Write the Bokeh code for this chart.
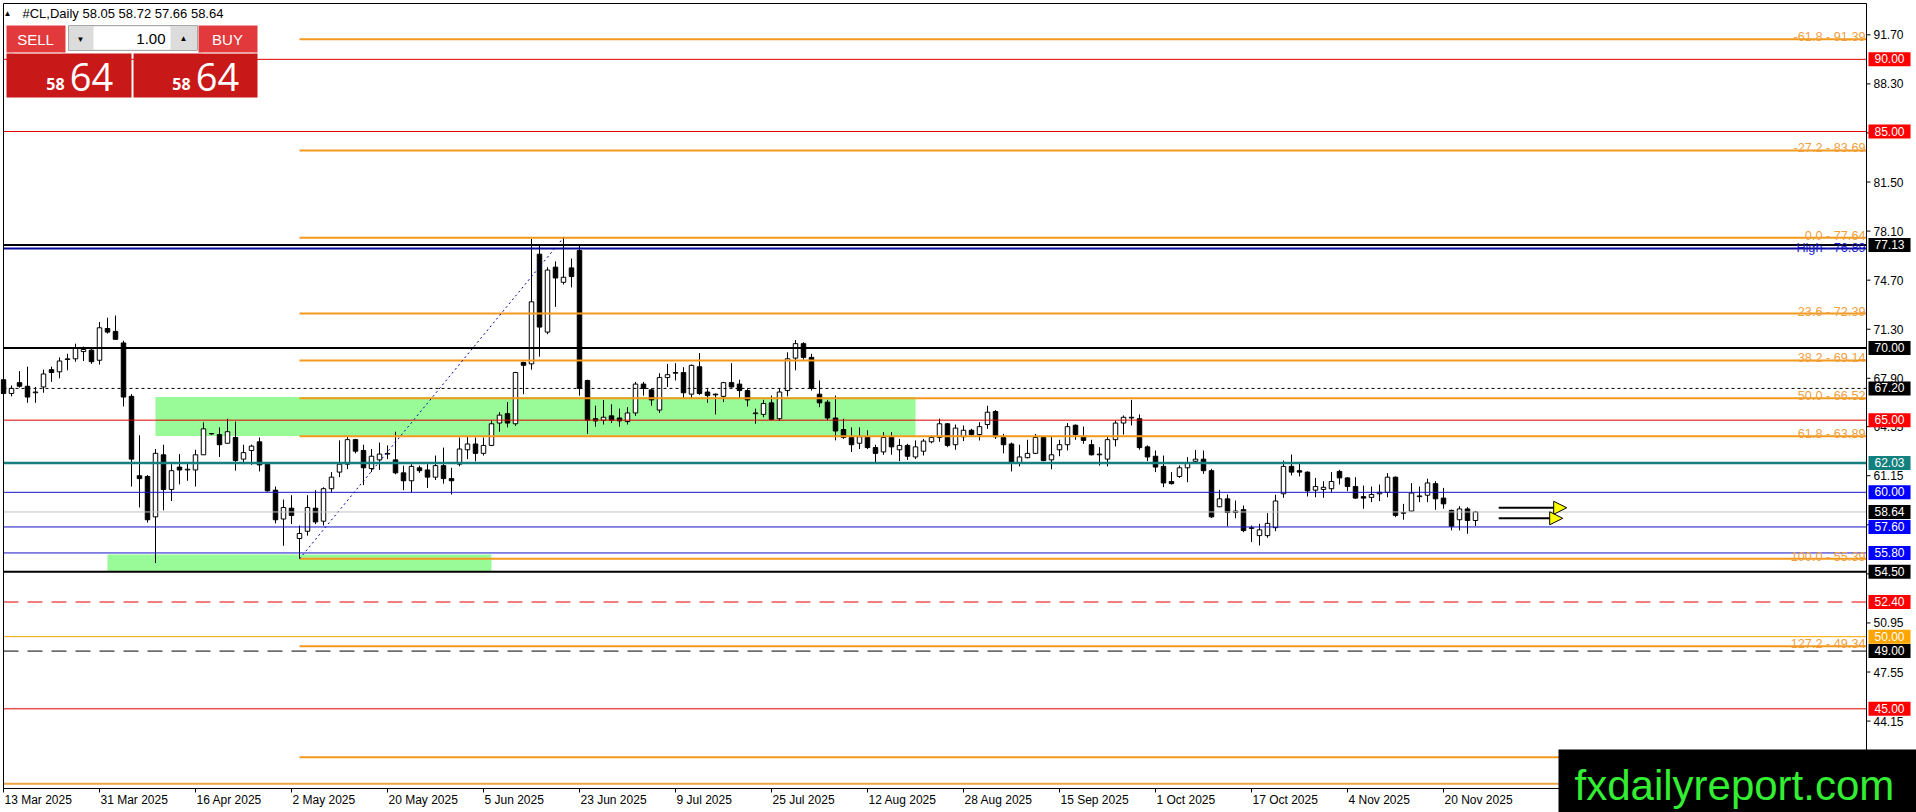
import numpy as np
from bokeh.plotting import figure
from bokeh.models import (Range1d, Label, BoxAnnotation, Arrow, NormalHead, ColumnDataSource)
from bokeh.core.properties import value
from bokeh.embed import file_html
from bokeh.resources import INLINE

# ---------------- data ----------------
symbol = "#CL,Daily"

opens = [67.8, 66.85, 67.6, 67.35, 66.9, 67.3, 68.5, 68.35, 69.2, 69.25,
         69.75, 69.85, 69.15, 71.35, 71.15, 70.35, 66.65, 61.15, 61.1, 58.3,
         62.6, 60.2, 61.75, 61.55, 61.55, 62.6, 64.05, 64.0, 63.4, 63.8,
         62.3, 62.9, 63.5, 61.95, 60.15, 58.15, 58.9, 56.8, 57.3, 58.9,
         58.0, 60.25, 61.4, 61.95, 63.65, 62.9, 61.65, 62.25, 62.65, 62.25,
         61.35, 60.8, 61.7, 61.55, 61.05, 61.85, 60.95, 61.95, 62.95, 63.35,
         62.7, 63.25, 64.8, 65.45, 64.75, 69.0, 68.9, 76.5, 71.1, 75.6,
         74.55, 75.55, 76.75, 67.75, 65.1, 65.0, 65.3, 65.15, 64.9, 65.5,
         67.5, 67.1, 65.7, 67.95, 68.25, 68.3, 66.8, 68.7, 66.95, 66.8,
         66.65, 67.6, 67.5, 67.05, 65.45, 65.4, 66.2, 65.1, 67.05, 69.3,
         70.3, 69.35, 66.8, 66.25, 65.15, 64.35, 63.8, 63.4, 63.85, 63.1,
         62.8, 63.85, 62.95, 63.25, 62.45, 62.85, 63.5, 63.8, 64.75, 63.3,
         63.85, 64.3, 64.0, 64.7, 65.6, 63.8, 63.35, 62.0, 62.4, 62.7,
         63.8, 62.25, 62.95, 63.3, 64.65, 63.85, 63.3, 62.6, 62.3, 63.65,
         64.8, 65.15, 65.1, 63.15, 62.5, 61.8, 60.75, 61.1, 61.7, 62.15,
         62.3, 61.5, 59.0, 59.55, 58.6, 58.8, 57.5, 57.0, 57.0, 57.55,
         59.9, 61.8, 61.5, 61.4, 60.15, 60.2, 60.25, 61.45, 61.0, 60.4,
         59.7, 59.65, 59.9, 60.0, 61.05, 58.55, 58.7, 59.7, 59.8, 60.6,
         59.6, 58.75, 58.1, 58.85, 58.05]
highs = [68.0, 67.4, 68.4, 68.7, 67.3, 68.5, 68.7, 69.35, 69.6, 70.3,
         70.1, 70.05, 71.8, 72.1, 72.25, 70.5, 66.8, 63.95, 61.2, 63.0,
         63.3, 61.95, 62.65, 62.0, 62.95, 64.85, 64.1, 64.5, 65.1, 64.9,
         63.3, 63.3, 63.8, 62.0, 60.4, 59.5, 59.8, 57.7, 59.8, 60.15,
         60.35, 61.4, 63.6, 63.85, 63.7, 63.3, 63.0, 63.45, 63.25, 64.2,
         61.85, 61.95, 61.85, 61.95, 62.55, 63.1, 61.7, 63.8, 63.85, 63.8,
         63.8, 64.98, 65.55, 66.25, 68.35, 69.05, 77.55, 77.15, 75.6, 76.0,
         77.64, 76.2, 77.15, 67.8, 66.0, 66.4, 66.1, 65.8, 65.9, 67.65,
         67.65, 67.2, 68.25, 68.9, 68.95, 68.67, 68.85, 69.65, 67.15, 66.85,
         67.65, 68.95, 67.8, 67.2, 65.8, 66.41, 66.7, 67.2, 69.7, 70.55,
         70.4, 69.6, 67.75, 66.41, 66.7, 65.1, 64.5, 64.5, 64.3, 63.3,
         64.17, 64.17, 63.7, 63.36, 63.6, 63.7, 63.94, 65.1, 64.8, 64.7,
         64.63, 64.4, 64.86, 66.0, 65.7, 64.05, 63.45, 63.3, 63.64, 64.05,
         63.85, 63.85, 63.64, 64.8, 64.7, 64.56, 63.64, 63.13, 63.87, 64.97,
         65.33, 66.41, 65.4, 63.25, 62.9, 62.55, 61.4, 61.86, 62.44, 62.94,
         62.9, 61.63, 60.17, 59.85, 59.43, 59.09, 57.7, 57.82, 58.56, 59.83,
         62.2, 62.62, 62.02, 61.45, 61.0, 60.77, 61.4, 61.56, 61.05, 61.05,
         60.47, 60.4, 60.54, 61.33, 61.1, 59.2, 60.64, 60.4, 60.94, 60.77,
         60.31, 58.8, 59.04, 58.97, 58.72]
lows = [66.35, 66.65, 67.25, 66.2, 66.2, 66.9, 67.65, 67.9, 68.45, 69.05,
        69.1, 68.9, 68.85, 71.0, 70.6, 65.95, 60.4, 58.95, 57.9, 55.1,
        58.75, 59.4, 60.55, 60.8, 60.4, 62.6, 64.0, 62.45, 63.4, 61.5,
        61.95, 61.9, 61.45, 60.05, 57.85, 56.3, 57.8, 55.39, 57.0, 57.8,
        57.7, 60.0, 61.05, 61.6, 62.7, 60.5, 61.4, 61.55, 62.3, 61.25,
        60.15, 60.0, 61.35, 60.3, 60.85, 60.6, 59.85, 61.8, 62.3, 62.15,
        62.55, 63.2, 64.2, 64.5, 64.6, 66.8, 68.5, 69.4, 70.95, 72.85,
        74.4, 74.2, 66.7, 64.05, 64.55, 64.7, 64.8, 64.55, 64.7, 65.3,
        66.7, 66.0, 65.5, 67.3, 67.75, 66.5, 66.5, 66.75, 66.2, 65.4,
        66.25, 67.25, 66.5, 65.95, 64.75, 65.2, 65.0, 64.95, 66.65, 68.45,
        69.2, 67.05, 65.9, 65.0, 63.6, 63.7, 62.8, 63.0, 63.0, 61.98,
        62.6, 62.6, 62.16, 62.25, 62.3, 62.55, 63.4, 63.5, 63.13, 62.95,
        63.55, 63.94, 63.59, 64.4, 63.7, 62.7, 61.45, 61.8, 62.35, 62.65,
        62.15, 61.6, 62.5, 62.9, 63.64, 63.36, 62.55, 61.86, 61.8, 63.18,
        64.0, 64.63, 62.95, 62.16, 61.4, 60.36, 60.54, 61.0, 60.7, 62.09,
        61.28, 58.23, 58.97, 57.65, 58.2, 57.24, 56.55, 56.32, 56.85, 57.31,
        59.62, 61.17, 61.1, 59.71, 59.66, 59.62, 60.0, 60.54, 60.08, 59.55,
        58.86, 59.32, 59.39, 59.66, 58.28, 58.1, 58.65, 59.32, 59.32, 58.79,
        58.86, 57.36, 57.36, 57.13, 57.66]
closes = [66.85, 67.2, 67.35, 66.6, 66.95, 68.2, 68.3, 69.1, 69.25, 70.0,
          69.9, 69.05, 71.4, 71.1, 70.6, 66.6, 62.3, 60.95, 58.1, 62.7,
          60.2, 61.5, 61.55, 61.6, 62.6, 64.4, 64.07, 63.3, 64.2, 62.2,
          62.75, 63.2, 61.9, 60.1, 58.1, 58.95, 58.4, 57.15, 58.95, 57.95,
          60.25, 61.05, 61.95, 63.65, 62.85, 61.7, 62.5, 62.65, 62.7, 61.35,
          60.8, 61.8, 61.5, 61.05, 61.85, 60.95, 60.8, 63.0, 63.35, 62.7,
          63.25, 64.75, 65.35, 64.8, 68.3, 68.8, 73.2, 71.45, 75.4, 74.85,
          74.9, 74.95, 67.2, 65.0, 64.95, 65.2, 65.0, 64.95, 65.5, 67.5,
          67.2, 66.4, 67.95, 68.15, 68.3, 66.9, 68.8, 66.85, 66.7, 66.75,
          67.6, 67.3, 67.05, 66.4, 65.5, 66.15, 65.05, 66.95, 69.25, 70.3,
          69.35, 67.2, 66.2, 65.15, 64.25, 63.8, 63.3, 63.85, 63.1, 62.7,
          63.8, 63.15, 63.25, 62.5, 63.15, 63.55, 63.8, 64.75, 63.25, 64.45,
          64.3, 64.0, 64.55, 65.55, 63.85, 63.3, 62.0, 62.45, 62.7, 63.8,
          62.2, 62.6, 63.3, 64.55, 64.0, 63.6, 62.6, 62.65, 63.65, 64.8,
          65.2, 65.2, 63.1, 62.45, 61.75, 60.65, 60.6, 61.7, 62.0, 62.3,
          61.5, 58.3, 59.55, 58.6, 58.7, 57.35, 57.55, 57.4, 57.85, 59.4,
          61.8, 61.4, 61.4, 60.1, 60.4, 60.35, 60.75, 61.0, 60.4, 59.6,
          59.6, 59.85, 60.0, 61.05, 58.4, 58.6, 59.95, 59.75, 60.65, 59.55,
          59.2, 57.65, 58.85, 58.05, 58.64]

date_labels = ["13 Mar 2025", "31 Mar 2025", "16 Apr 2025", "2 May 2025", "20 May 2025",
               "5 Jun 2025", "23 Jun 2025", "9 Jul 2025", "25 Jul 2025", "12 Aug 2025",
               "28 Aug 2025", "15 Sep 2025", "1 Oct 2025", "17 Oct 2025", "4 Nov 2025",
               "20 Nov 2025"]
date_bars = [0, 12, 24, 36, 48, 60, 72, 84, 96, 108, 120, 132, 144, 156, 168, 180]

y_ticks = [91.70, 88.30, 84.90, 81.50, 78.10, 74.70, 71.30, 67.90, 64.55, 61.15,
           57.75, 54.35, 50.95, 47.55, 44.15, 40.75]

# horizontal levels
level_prices = [90.00, 85.00, 77.13, 76.89, 70.00, 67.20, 65.00, 62.03, 60.00, 58.64,
                57.60, 55.80, 54.50, 52.40, 50.00, 49.00, 45.00, 39.80]
level_tagged = [True, True, True, False, True, True, True, True, True, True,
                True, True, True, True, True, True, True, False]

# fibonacci tool
fib_ratios = ["-61.8", "-27.2", "0.0", "23.6", "38.2", "50.0", "61.8", "100.0", "127.2", "161.8"]
fib_levels = [91.39, 83.69, 77.64, 72.39, 69.14, 66.52, 63.89, 55.39, 49.34, 41.64]
fib_start_bar = 37
fib_end_bar = 70
fib_low = 55.39
fib_high = 77.64
high_label_price = 76.89

# rectangles (zones)
zone_left = [19, 13]
zone_right = [114, 61]
zone_bottom = [63.90, 54.50]
zone_top = [66.60, 55.70]

# arrows drawn on the chart
arrow_x0 = [186.9, 186.9]
arrow_x1 = [195.4, 194.9]
arrow_y = [58.93, 58.20]

# ---------------- styles / layout ----------------
FONT = "Liberation Sans"
RED, BLACK, BLUE, TEAL, ORANGE = "#e00000", "#000000", "#1414c8", "#15807f", "#ffa500"
level_color = [RED, RED, BLACK, "#0a0a9a", BLACK, BLACK, RED, TEAL, BLUE, "#c0c0c0",
               BLUE, BLUE, BLACK, RED, ORANGE, BLACK, RED, "#eba646"]
level_width = [1, 1, 2, 2, 2, 1, 1, 2.5, 1, 1, 1, 1, 2, 1, 1, 1, 1, 2]
level_dash = ["solid", "solid", "solid", "solid", "solid", "3 3", "solid", "solid", "solid", "solid",
              "solid", "solid", "solid", "15 9", "solid", "15 9", "solid", "solid"]
tag_color = ["#ff0000", "#ff0000", BLACK, None, BLACK, BLACK, "#ff0000", "#138080", "#0000ff", BLACK,
             "#0000ff", "#0000ff", BLACK, "#ff0000", ORANGE, BLACK, "#ff0000", None]
FIB_LINE = "#f39a1e"
FIB_TEXT = "#f0a040"

W, H = 1916, 812          # canvas (sits at the page's top-left corner)
BAR_PX = 8
PX_PER_UNIT = 14.433      # vertical price scale in pixels
REF_PRICE, REF_Y = 91.70, 34.3

def price_at(page_y):
    return REF_PRICE - (page_y - REF_Y) / PX_PER_UNIT

x_start = -3 / BAR_PX      # bar 0 sits 3 px right of the left edge
def bar_at(page_x):
    return x_start + page_x / BAR_PX

x_end = bar_at(W)
x_edge = bar_at(1866)      # right border of the price area (price scale line)
y_lo, y_hi = price_at(H), price_at(0)
y_bottom = price_at(788)   # bottom border of the price area
y_top_line = price_at(3)
x_left_line = bar_at(3)

p = figure(width=W, height=H, x_range=Range1d(x_start, x_end), y_range=Range1d(y_lo, y_hi),
           output_backend="svg", toolbar_location=None,
           x_axis_location=None, y_axis_location=None,
           min_border=0, min_border_left=0, min_border_right=0,
           min_border_top=0, min_border_bottom=0,
           background_fill_color="white", border_fill_color="white")
p.outline_line_color = None
p.xgrid.visible = False
p.ygrid.visible = False

# zones (behind the candles)
p.quad(left=zone_left, right=zone_right, bottom=zone_bottom, top=zone_top,
       fill_color="#98fb98", line_color=None)

# candles
idx = np.arange(len(opens))
o, h, l, c_ = map(np.array, (opens, highs, lows, closes))
src = ColumnDataSource(dict(
    x=idx, o=o, h=h, l=l, c=c_,
    top=np.maximum(o, c_), bottom=np.minimum(o, c_),
    fill=np.where(c_ >= o, "white", "black")))
p.segment(x0="x", y0="l", x1="x", y1="h", source=src, line_color="black", line_width=1)
p.vbar(x="x", width=0.56, top="top", bottom="bottom", source=src,
       fill_color="fill", line_color="black", line_width=1)

# fibonacci lines and trend
nf = len(fib_levels)
p.segment(x0=[fib_start_bar] * nf, y0=fib_levels, x1=[x_edge] * nf, y1=fib_levels,
          line_color=FIB_LINE, line_width=2)
p.line(x=[fib_start_bar, fib_end_bar], y=[fib_low, fib_high],
       line_color="#0000a0", line_width=1, line_dash="2 3")

# horizontal levels (across the price area)
for price, col, w, d in zip(level_prices, level_color, level_width, level_dash):
    p.segment(x0=[x_left_line], y0=[price], x1=[x_edge], y1=[price],
              line_color=col, line_width=w, line_dash=d)

# borders of the price area
p.segment(x0=[x_left_line, x_left_line, x_edge, x_left_line],
          y0=[y_top_line, y_top_line, y_top_line, y_bottom],
          x1=[x_edge, x_left_line, x_edge, x_edge],
          y1=[y_top_line, y_bottom, y_bottom, y_bottom],
          line_color="black", line_width=1)

# price scale: ticks and labels
nt = len(y_ticks)
p.segment(x0=[x_edge] * nt, y0=y_ticks, x1=[x_edge + 4 / BAR_PX] * nt, y1=y_ticks,
          line_color="black", line_width=1)
p.text(x=[x_edge] * nt, y=y_ticks, text=[f"{t:.2f}" for t in y_ticks], x_offset=7,
       text_align="left", text_baseline="middle", text_font=value(FONT),
       text_font_size="12px", text_color="black")

# time scale: ticks and labels (labels start at their tick)
nd = len(date_bars)
p.segment(x0=date_bars, y0=[y_bottom] * nd, x1=date_bars, y1=[price_at(792)] * nd,
          line_color="black", line_width=1)
p.text(x=date_bars, y=[price_at(799)] * nd, text=date_labels, x_offset=1,
       text_align="left", text_baseline="middle", text_font=value(FONT),
       text_font_size="12px", text_color="black")

# fib texts
for r, lv in zip(fib_ratios, fib_levels):
    p.add_layout(Label(x=x_edge, y=lv, x_offset=-1, text=f"{r} - {lv:.2f}",
                       text_align="right", text_baseline="alphabetic", y_offset=2,
                       text_font=FONT, text_font_size="12.7px", text_color=FIB_TEXT))
p.add_layout(Label(x=x_edge, y=high_label_price, x_offset=-1,
                   text=f"High - {high_label_price:.2f}", text_align="right",
                   text_baseline="alphabetic", y_offset=1, text_font=FONT,
                   text_font_size="12.7px", text_color="#1a1acc"))

# arrows
for x0, x1, yy in zip(arrow_x0, arrow_x1, arrow_y):
    p.add_layout(Arrow(x_start=x0, y_start=yy, x_end=x1, y_end=yy, line_color="black",
                       line_width=2, end=NormalHead(size=13, fill_color="#ffff00",
                                                    line_color="black", line_width=1)))

# price tags on the price scale
EN = "\u2002"
for price, tagged, tc in zip(level_prices, level_tagged, tag_color):
    if tagged:
        p.add_layout(Label(x=x_edge, x_offset=2, y=price, text=f"{EN}{price:.2f}{EN}",
                           text_align="left", text_baseline="middle", text_font=FONT,
                           text_font_size="12px", text_color="white",
                           background_fill_color=tc, background_fill_alpha=1))

# ---- trading panel and symbol line (top-left), screen units ----
def sy(page_y):
    return H - page_y

bid_big = f"{closes[-1]:.2f}"
big_head, big_tail = bid_big.split(".")

title_line = f"{symbol} {opens[-1]:.2f} {highs[-1]:.2f} {lows[-1]:.2f} {closes[-1]:.2f}"
p.add_layout(Label(x=7, y=sy(13), x_units="screen", y_units="screen", text="\u25b2",
                   text_font=FONT, text_font_size="8px", text_baseline="middle",
                   text_align="center", text_color="black"))
p.add_layout(Label(x=22, y=sy(13), x_units="screen", y_units="screen", text=title_line,
                   text_font=FONT, text_font_size="13px", text_baseline="middle", text_color="black"))

def box(l_, r_, t_, b_, fill, line=None):
    p.add_layout(BoxAnnotation(left=l_, right=r_, top=sy(t_), bottom=sy(b_),
                               left_units="screen", right_units="screen",
                               top_units="screen", bottom_units="screen",
                               fill_color=fill, fill_alpha=1, line_color=line,
                               line_alpha=1 if line else 0))

def txt(x, y, s, size, color="white", align="center", bold=False, font=FONT):
    p.add_layout(Label(x=x, y=sy(y), x_units="screen", y_units="screen", text=s,
                       text_font=font, text_font_size=size, text_color=color,
                       text_align=align, text_baseline="middle",
                       text_font_style="bold" if bold else "normal"))

box(6, 65, 25, 52, "#e23a3c")
box(198, 257, 25, 52, "#e23a3c")
box(68, 197, 25, 50, "#dcdcdc", "#a8a8a8")
box(93, 170, 26, 49, "white")
box(6, 131, 53, 97, "#c81818")
box(133, 257, 53, 97, "#c81818")
box(13, 62, 52, 53, "#f4b0b0")
box(202, 254, 52, 53, "#f4b0b0")
txt(35, 39, "SELL", "15px")
txt(227, 39, "BUY", "15px")
txt(165, 38, "1.00", "15px", color="black", align="right")
txt(80, 39, "\u25bc", "8px", color="black")
txt(183, 38, "\u25b2", "8px", color="black")
txt(55, 83, big_head, "16px", bold=True, font="Open Sans")
txt(91, 76, big_tail, "38px", font="Open Sans")
txt(181, 83, big_head, "16px", bold=True, font="Open Sans")
txt(217, 76, big_tail, "38px", font="Open Sans")

# ---- watermark ----
box(1558, W, 749, H, "black")
p.add_layout(Label(x=1574, y=sy(785), x_units="screen", y_units="screen",
                   text="fxdailyreport.com", text_font=FONT, text_font_size="42px",
                   text_baseline="alphabetic", text_color="#33ee33"))

open("out.html", "w").write(file_html(p, INLINE))
